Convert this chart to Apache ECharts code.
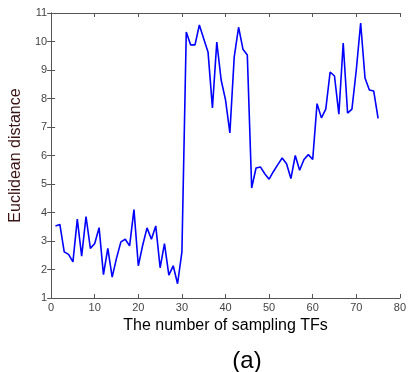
<!DOCTYPE html>
<html>
<head>
<meta charset="utf-8">
<script src="https://cdn.jsdelivr.net/npm/echarts@6/dist/echarts.min.js"></script>
<style>
  html, body { margin: 0; padding: 0; background: #fff; }
  #main { width: 409px; height: 372px; }
</style>
</head>
<body>
<div id="main"></div>
<script>
// data
var sampleCounts = [];
for (var i = 1; i <= 75; i++) sampleCounts.push(i);

var distances = [
    3.53, 3.58, 2.62, 2.53, 2.27, 3.77, 2.47, 3.86, 2.74, 2.91,
    3.47, 1.82, 2.74, 1.73, 2.40, 2.97, 3.06, 2.83, 4.10, 2.13,
    2.85, 3.46, 3.06, 3.53, 2.06, 2.91, 1.80, 2.13, 1.50, 2.62,
    10.33, 9.88, 9.88, 10.58, 10.10, 9.62, 7.67, 9.98, 8.65, 7.95,
    6.79, 9.46, 10.50, 9.73, 9.53, 4.86, 5.56, 5.60, 5.36, 5.17,
    5.44, 5.68, 5.91, 5.71, 5.19, 6.00, 5.48, 5.86, 6.03, 5.86,
    7.82, 7.32, 7.63, 8.93, 8.79, 7.45, 9.95, 7.49, 7.63, 9.00,
    10.65, 8.72, 8.30, 8.26, 7.30
];

var xTicks = [0, 10, 20, 30, 40, 50, 60, 70, 80];
var yTicks = [1, 2, 3, 4, 5, 6, 7, 8, 9, 10, 11];

var lineData = sampleCounts.map(function (x, k) { return [x, distances[k]]; });

var axisColor = '#555';
var fontFam = '"Liberation Sans", Arial, sans-serif';

var myChart = echarts.init(document.getElementById('main'));

var option = {
    animation: false,
    backgroundColor: '#fff',
    title: {
        text: '(a)',
        left: 242,
        top: 344,
        textAlign: 'center',
        textStyle: { fontFamily: fontFam, fontSize: 24, fontWeight: 'normal', color: '#000' }
    },
    grid: { left: 46, right: 5, top: 13, bottom: 74 },
    xAxis: [
        {
            type: 'value',
            min: xTicks[0],
            max: xTicks[xTicks.length - 1],
            interval: 10,
            name: 'The number of sampling TFs',
            nameLocation: 'middle',
            nameGap: 17,
            nameTextStyle: { fontFamily: fontFam, fontSize: 16, color: '#000' },
            axisLine: { show: true, lineStyle: { color: axisColor, width: 1 } },
            axisTick: { show: true, inside: true, length: 4, lineStyle: { color: axisColor } },
            axisLabel: { fontFamily: fontFam, fontSize: 11, color: '#444', margin: 4 },
            splitLine: { show: false }
        },
        {
            type: 'value',
            position: 'top',
            min: xTicks[0],
            max: xTicks[xTicks.length - 1],
            interval: 10,
            axisLine: { show: true, lineStyle: { color: axisColor, width: 1 } },
            axisTick: { show: true, inside: true, length: 4, lineStyle: { color: axisColor } },
            axisLabel: { show: false },
            splitLine: { show: false }
        }
    ],
    yAxis: [
        {
            type: 'value',
            min: yTicks[0],
            max: yTicks[yTicks.length - 1],
            interval: 1,
            name: 'Euclidean distance',
            nameLocation: 'middle',
            nameGap: 19,
            nameTextStyle: { fontFamily: fontFam, fontSize: 16, color: '#3a1414' },
            axisLine: { show: true, lineStyle: { color: axisColor, width: 1 } },
            axisTick: { show: true, inside: true, length: 4, lineStyle: { color: axisColor } },
            axisLabel: { fontFamily: fontFam, fontSize: 11, color: '#444', margin: 4 },
            splitLine: { show: false }
        },
        {
            type: 'value',
            position: 'right',
            min: yTicks[0],
            max: yTicks[yTicks.length - 1],
            interval: 1,
            axisLine: { show: true, lineStyle: { color: axisColor, width: 1 } },
            axisTick: { show: true, inside: true, length: 4, lineStyle: { color: axisColor } },
            axisLabel: { show: false },
            splitLine: { show: false }
        }
    ],
    series: [
        {
            type: 'line',
            data: lineData,
            showSymbol: false,
            symbol: 'none',
            lineStyle: { color: '#0000ff', width: 1.6 },
            itemStyle: { color: '#0000ff' }
        }
    ]
};

myChart.setOption(option, true);
</script>
</body>
</html>
